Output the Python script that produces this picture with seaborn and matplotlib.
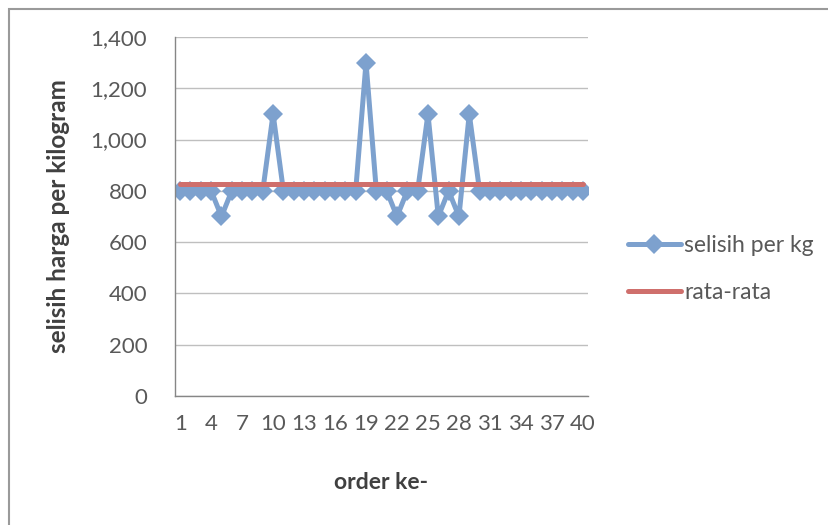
import pandas as pd
import matplotlib.pyplot as plt
import matplotlib.patches as mpatches
import seaborn as sns

# data: selisih harga per kg tiap order
order_ke = list(range(1, 41))
selisih_per_kg = [800, 800, 800, 800, 700, 800, 800, 800, 800, 1100,
                  800, 800, 800, 800, 800, 800, 800, 800, 1300, 800,
                  800, 700, 800, 800, 1100, 700, 800, 700, 1100, 800,
                  800, 800, 800, 800, 800, 800, 800, 800, 800, 800]
nilai_rata = 825
y_ticks = [0, 200, 400, 600, 800, 1000, 1200, 1400]
x_labels = list(range(1, 41, 3))

sns.set_style("white")
plt.rcParams['font.family'] = ['Lato', 'DejaVu Sans']

df = pd.DataFrame({'order': order_ke,
                   'selisih per kg': selisih_per_kg,
                   'rata-rata': [nilai_rata] * len(order_ke)})

fig = plt.figure(figsize=(8.29, 5.25), dpi=100)
ax = fig.add_axes([175/829, 1 - 396/525, 413/829, 359/525])

biru = '#7da1ce'
merah = '#cf6f6c'
teks = '#595959'

sns.lineplot(data=df, x='order', y='selisih per kg', ax=ax, color=biru,
             linewidth=3.6, marker='D', markersize=10.5, markeredgewidth=0,
             label='selisih per kg')
sns.lineplot(data=df, x='order', y='rata-rata', ax=ax, color=merah,
             linewidth=3.6, label='rata-rata')

ax.set_xlim(0.5, 40.5)
ax.set_ylim(0, 1400)
ax.set_yticks(y_ticks)
ax.set_yticklabels([f'{v:,}' for v in y_ticks], color=teks, fontsize=16)
ax.yaxis.grid(True, color='#bfbfbf', linewidth=1)
ax.set_axisbelow(True)

# tick kategori di batas, label di tengah tiap 3 order
ax.set_xticks([i + 0.5 for i in range(0, 41)])
ax.set_xticklabels([])
ax.set_xticks(x_labels, minor=True)
ax.set_xticklabels([str(v) for v in x_labels], minor=True, color=teks, fontsize=16)
ax.tick_params(axis='x', which='major', length=5, color='#868686', width=1, direction='out')
ax.tick_params(axis='x', which='minor', length=0, pad=13)
ax.tick_params(axis='y', length=5, color='#868686', width=1, direction='out', pad=15)

for s in ['top', 'right']:
    ax.spines[s].set_visible(False)
for s in ['left', 'bottom']:
    ax.spines[s].set_color('#868686')
    ax.spines[s].set_linewidth(1)

ax.set_xlabel('order ke-', fontsize=16.5, fontweight='bold', color='#404040', labelpad=27)
ax.set_ylabel('selisih harga per kilogram', fontsize=17.5, fontweight='bold', color='#404040', labelpad=15)

leg = ax.legend(loc='center left', bbox_to_anchor=(628/829, 1 - 269/525),
                bbox_transform=fig.transFigure, frameon=False, fontsize=16.5,
                handlelength=2.3, handletextpad=0.15, labelspacing=1.1,
                borderpad=0, borderaxespad=0)
for t in leg.get_texts():
    t.set_color(teks)

# bingkai area chart
fig.patches.append(mpatches.Rectangle((9/829, -0.1), 1.2, 1 - 9/525 + 0.1,
                                      transform=fig.transFigure, fill=False,
                                      edgecolor='#9a9a9a', linewidth=1.5))

plt.savefig('out.png', dpi=100)
